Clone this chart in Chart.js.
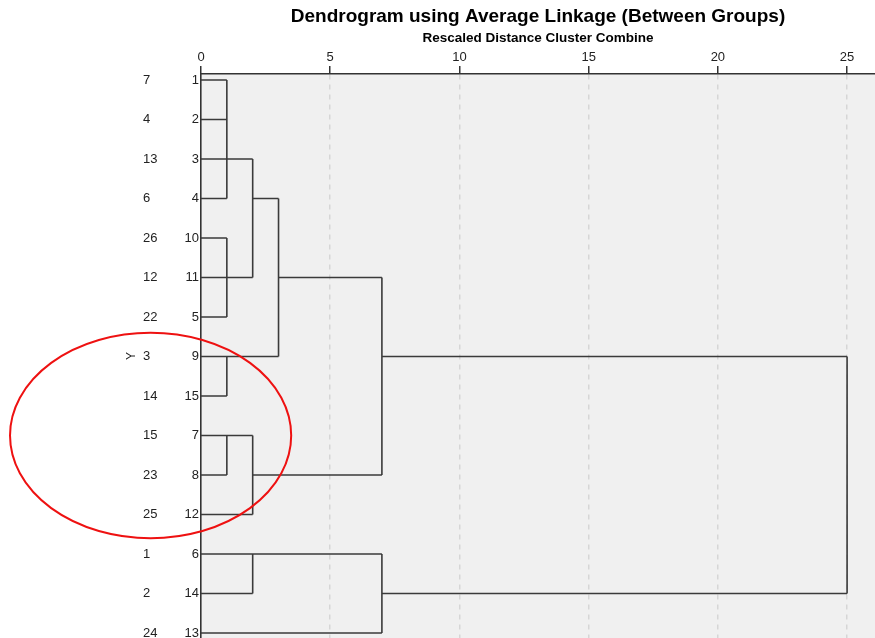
<!DOCTYPE html>
<html>
<head>
<meta charset="utf-8">
<script src="https://cdn.jsdelivr.net/npm/chart.js@4.4.0/dist/chart.umd.min.js"></script>
<style>
  html, body { margin: 0; padding: 0; background: #fff; }
  #wrap { width: 875px; height: 638px; }
</style>
</head>
<body>
<div id="wrap"><canvas id="dendro"></canvas></div>
<script>
// Leaf order, top to bottom: case number and its Y label
const caseNumbers = ['1', '2', '3', '4', '10', '11', '5', '9', '15', '7', '8', '12', '6', '14', '13'];
const caseLabels = ['7', '4', '13', '6', '26', '12', '22', '3', '14', '15', '23', '25', '1', '2', '24'];

// Merges in join order. Children are leaf rows (0-14) or earlier merges (15, 16, ...)
const mergeChildren = [
    [0, 1, 2, 3],
    [4, 5, 6],
    [15, 16],
    [7, 8],
    [17, 18],
    [9, 10],
    [20, 11],
    [19, 21],
    [12, 13],
    [23, 14],
    [22, 24]
];
const mergeDistance = [1, 1, 2, 1, 3, 1, 2, 7, 2, 7, 25];
const mergeRow = [2, 5, 3, 7, 5, 9, 10, 7, 12, 13, 7]; // row the joined cluster carries on from
const distanceTicks = [0, 5, 10, 15, 20, 25];

// Build the elbow segments (null point = break in the line)
const nodeRow = caseNumbers.map((_, i) => i);
const nodeDist = caseNumbers.map(() => 0);
const segments = [];
mergeChildren.forEach((kids, m) => {
    const d = mergeDistance[m];
    const rows = kids.map(k => nodeRow[k]);
    kids.forEach(k => {
        segments.push({ x: nodeDist[k], y: nodeRow[k] }, { x: d, y: nodeRow[k] }, { x: null, y: null });
    });
    segments.push({ x: d, y: Math.min(...rows) }, { x: d, y: Math.max(...rows) }, { x: null, y: null });
    nodeRow.push(mergeRow[m]);
    nodeDist.push(d);
});

Chart.defaults.font.family = '"Liberation Sans", Arial, sans-serif';
Chart.defaults.color = '#222';

// grey plot background
const plotBackground = {
    id: 'plotBackground',
    beforeDraw(chart) {
        const { ctx, chartArea: a } = chart;
        ctx.save();
        ctx.fillStyle = '#f0f0f0';
        ctx.fillRect(a.left, a.top, a.right - a.left, a.bottom - a.top);
        ctx.restore();
    }
};

// red circle drawn round rows 3..25
const circledGroup = {
    id: 'circledGroup',
    afterDraw(chart) {
        const { ctx, scales: { x, y } } = chart;
        const cx = x.getPixelForValue(-1.95);
        const cy = y.getPixelForValue(9);
        const rx = x.getPixelForValue(5.44) - x.getPixelForValue(0);
        const ry = y.getPixelForValue(2.6) - y.getPixelForValue(0);
        ctx.save();
        ctx.strokeStyle = '#ee1111';
        ctx.lineWidth = 2;
        ctx.beginPath();
        ctx.ellipse(cx, cy, rx, ry, 0, 0, Math.PI * 2);
        ctx.stroke();
        ctx.restore();
    }
};

const rowTicks = s => { s.ticks = caseNumbers.map((_, i) => ({ value: i })); };
const noPad = s => { s.paddingTop = 0; s.paddingBottom = 0; s.paddingLeft = 0; s.paddingRight = 0; };

const ctx = document.getElementById('dendro').getContext('2d');
new Chart(ctx, {
    type: 'scatter',
    data: {
        datasets: [{
            data: segments,
            showLine: true,
            spanGaps: false,
            borderColor: '#3a3a3a',
            borderWidth: 1.6,
            pointRadius: 0,
            pointHoverRadius: 0
        }]
    },
    options: {
        responsive: true,
        maintainAspectRatio: false,
        animation: false,
        layout: { padding: { left: 120, top: 0, right: 0, bottom: 0 } },
        plugins: {
            legend: { display: false },
            tooltip: { enabled: false },
            title: {
                display: true,
                text: 'Dendrogram using Average Linkage (Between Groups)',
                fullSize: false,
                color: '#000',
                font: { size: 19, weight: 'bold', lineHeight: 1.2 },
                padding: { top: 5, bottom: 2 }
            }
        },
        scales: {
            x: {
                type: 'linear',
                position: 'top',
                min: 0,
                max: 26.08,
                afterBuildTicks: s => { s.ticks = distanceTicks.map(v => ({ value: v })); },
                afterFit: s => { s.height = 44.2; noPad(s); },
                title: {
                    display: true,
                    text: 'Rescaled Distance Cluster Combine',
                    color: '#000',
                    font: { size: 13.5, weight: 'bold' },
                    padding: { top: 0, bottom: 0 }
                },
                ticks: { color: '#222', font: { size: 13 }, padding: 1, maxRotation: 0 },
                grid: {
                    color: c => (c.tick && c.tick.value === 0 ? 'rgba(0,0,0,0)' : '#d6d6d6'),
                    lineWidth: 1.5,
                    tickColor: '#333',
                    tickLength: 8,
                    tickWidth: 1.5
                },
                border: { display: true, color: '#333', width: 1.5, dash: [5, 5] }
            },
            y: {
                type: 'linear',
                position: 'left',
                weight: 0,
                reverse: true,
                min: -0.152,
                max: 14.127,
                afterBuildTicks: rowTicks,
                afterFit: s => { s.width = 18; noPad(s); },
                ticks: { callback: v => caseNumbers[v], padding: 2, font: { size: 13 }, color: '#222' },
                grid: { display: false, drawTicks: false },
                border: { display: true, color: '#333', width: 1.6 }
            },
            y2: {
                type: 'linear',
                position: 'left',
                weight: 1,
                reverse: true,
                min: -0.152,
                max: 14.127,
                afterBuildTicks: rowTicks,
                afterFit: s => { s.width = 40; noPad(s); },
                ticks: { callback: v => caseLabels[v], crossAlign: 'far', padding: 0, font: { size: 13 }, color: '#222' },
                grid: { display: false, drawTicks: false },
                border: { display: false }
            },
            yTitle: {
                type: 'linear',
                position: 'left',
                weight: 2,
                afterFit: s => { s.width = 23; noPad(s); },
                ticks: { display: false },
                grid: { display: false, drawTicks: false },
                border: { display: false },
                title: { display: true, text: 'Y', color: '#222', font: { size: 12 }, padding: { top: 4, bottom: 0 } }
            }
        }
    },
    plugins: [plotBackground, circledGroup]
});
</script>
</body>
</html>
